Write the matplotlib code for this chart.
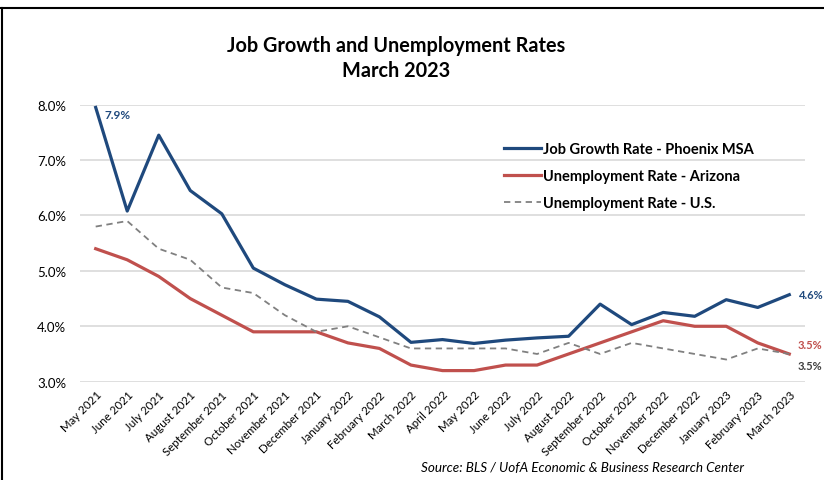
import matplotlib.pyplot as plt
from matplotlib.lines import Line2D

plt.rcParams['font.family'] = ['Lato', 'DejaVu Sans']

meses = ["May 2021", "June 2021", "July 2021", "August 2021", "September 2021",
         "October 2021", "November 2021", "December 2021", "January 2022",
         "February 2022", "March 2022", "April 2022", "May 2022", "June 2022",
         "July 2022", "August 2022", "September 2022", "October 2022",
         "November 2022", "December 2022", "January 2023", "February 2023",
         "March 2023"]

job_phoenix = [7.95, 6.08, 7.45, 6.45, 6.03, 5.05, 4.75, 4.49, 4.45, 4.17, 3.71,
               3.76, 3.69, 3.75, 3.79, 3.82, 4.40, 4.03, 4.25, 4.18, 4.48, 4.34, 4.57]
unemp_az = [5.4, 5.2, 4.9, 4.5, 4.2, 3.9, 3.9, 3.9, 3.7, 3.6, 3.3,
            3.2, 3.2, 3.3, 3.3, 3.5, 3.7, 3.9, 4.1, 4.0, 4.0, 3.7, 3.5]
unemp_us = [5.8, 5.9, 5.4, 5.2, 4.7, 4.6, 4.2, 3.9, 4.0, 3.8, 3.6,
            3.6, 3.6, 3.6, 3.5, 3.7, 3.5, 3.7, 3.6, 3.5, 3.4, 3.6, 3.5]

azul = "#1F497D"
rojo = "#C0504D"
gris = "#808080"

fig = plt.figure(figsize=(8.24, 4.81), dpi=100)
ax = fig.add_axes([0.097, 0.2044, 0.880, 0.5759])

x = list(range(len(meses)))
ax.plot(x, job_phoenix, color=azul, lw=2.3, zorder=3)
ax.plot(x, unemp_az, color=rojo, lw=2.3, zorder=2)
ax.plot(x, unemp_us, color=gris, lw=1.3, ls=(0, (3.5, 2.5)), zorder=2)

ax.set_xlim(-0.5, len(meses) - 0.5)
ax.set_ylim(3.0, 8.0)
ax.set_yticks([3, 4, 5, 6, 7, 8])
ax.set_yticklabels([f"{v:.1f}%" for v in [3, 4, 5, 6, 7, 8]], fontsize=9.5)
ax.set_xticks(x)
ax.set_xticklabels(meses, rotation=45, ha="right", rotation_mode="anchor", fontsize=8.3)
ax.tick_params(axis="y", length=0, pad=10)
ax.tick_params(axis="x", length=0, pad=5)
ax.grid(axis="y", color="#D9D9D9", lw=1.2)
ax.set_axisbelow(True)
for s in ax.spines.values():
    s.set_visible(False)

# etiquetas de datos
ax.annotate("7.9%", (0, job_phoenix[0]), xytext=(6, -5), textcoords="offset points",
            color=azul, fontsize=8.5, fontweight="bold", va="center")
ax.annotate("4.6%", (22, job_phoenix[-1]), xytext=(7, 0), textcoords="offset points",
            color=azul, fontsize=8, fontweight="bold", va="center", annotation_clip=False)
ax.annotate("3.5%", (22, unemp_az[-1]), xytext=(6, 7), textcoords="offset points",
            color=rojo, fontsize=8, fontweight="bold", va="center", annotation_clip=False)
ax.annotate("3.5%", (22, unemp_us[-1]), xytext=(6, -8), textcoords="offset points",
            color="#404040", fontsize=8, fontweight="bold", va="center", annotation_clip=False)

# leyenda
handles = [Line2D([], [], color=azul, lw=2.3),
           Line2D([], [], color=rojo, lw=2.3),
           Line2D([], [], color=gris, lw=1.3, ls=(0, (3.5, 2.5)))]
etiquetas = ["Job Growth Rate - Phoenix MSA", "Unemployment Rate - Arizona",
             "Unemployment Rate - U.S."]
leg = fig.legend(handles, etiquetas, loc="upper left", bbox_to_anchor=(0.596, 0.73),
                 frameon=False, handlelength=2.5, handletextpad=0.15,
                 labelspacing=0.88, prop={"weight": "bold", "size": 10.5})

fig.text(0.481, 0.905, "Job Growth and Unemployment Rates", ha="center", va="center",
         fontsize=14.3, fontweight="bold")
fig.text(0.481, 0.853, "March 2023", ha="center", va="center",
         fontsize=14.3, fontweight="bold")
fig.text(0.707, 0.027, "Source: BLS / UofA Economic & Business Research Center",
         ha="center", va="center", fontsize=9.7, style="italic")

# borde superior e izquierdo
fig.add_artist(Line2D([0, 1], [0.981, 0.981], transform=fig.transFigure, color="black", lw=1.5))
fig.add_artist(Line2D([0.002, 0.002], [0, 0.981], transform=fig.transFigure, color="black", lw=1.5))

fig.savefig("out.png", dpi=100)
